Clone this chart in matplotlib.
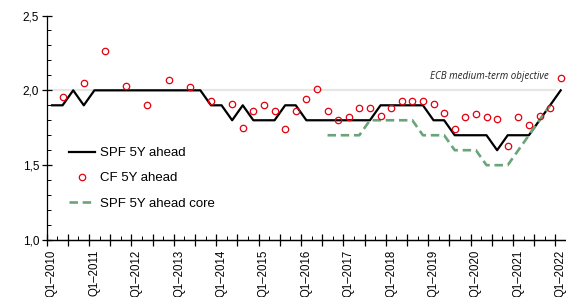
import numpy as np
import matplotlib
matplotlib.use("Agg")
import matplotlib.pyplot as plt
from matplotlib.ticker import FixedLocator, MultipleLocator, FuncFormatter

nan = np.nan
# quarterly series Q1-2010 ... Q1-2022 (49 quarters)
years = list(range(2010, 2023))
tick_labels = [f"Q1\u2013{y}" for y in years]

spf_5y = [1.9, 1.9, 2.0, 1.9,
          2.0, 2.0, 2.0, 2.0, 2.0, 2.0, 2.0, 2.0, 2.0, 2.0, 2.0,
          1.9, 1.9, 1.8, 1.9, 1.8, 1.8, 1.8, 1.9, 1.9,
          1.8, 1.8, 1.8, 1.8, 1.8, 1.8, 1.8,
          1.9, 1.9, 1.9, 1.9, 1.9,
          1.8, 1.8, 1.7, 1.7, 1.7, 1.7, 1.6, 1.7, 1.7, 1.7,
          1.8, 1.9, 2.0]

cf_5y = [nan, 1.955, nan, 2.05, nan, 2.26, nan, 2.03, nan, 1.90,
         nan, 2.07, nan, 2.02, nan, 1.93, nan, 1.91, 1.75, 1.86,
         1.90, 1.86, 1.74, 1.86, 1.94, 2.01, 1.86, 1.80, 1.82, 1.88,
         1.88, 1.83, 1.88, 1.93, 1.93, 1.93, 1.91, 1.85, 1.74, 1.82,
         1.84, 1.82, 1.81, 1.63, 1.82, 1.77, 1.83, 1.88, 2.08]

spf_core = [nan] * 26 + [1.7, 1.7, 1.7, 1.7,
                         1.8, 1.8, 1.8, 1.8, 1.8,
                         1.7, 1.7, 1.7,
                         1.6, 1.6, 1.6,
                         1.5, 1.5, 1.5,
                         1.6, 1.7, 1.8, 1.9, nan]

ecb_objective = 2.0
ecb_label = "ECB medium-term objective"

x = np.arange(len(spf_5y))

plt.rcParams['font.family'] = ['Liberation Sans', 'DejaVu Sans']
fig = plt.figure(figsize=(5.66, 2.97), dpi=100)
ax = fig.add_axes([46.7 / 566, (297 - 240) / 297, (566 - 46.7) / 566, (240 - 15.5) / 297])

ax.hlines(ecb_objective, -0.5, 47.6, color='#e6e6e6', lw=1.6, zorder=1)
ax.plot(x, spf_5y, color='black', lw=1.6, label='SPF 5Y ahead', zorder=3)
ax.plot(x, cf_5y, ls='none', marker='o', ms=4.6, mfc='none', mec='#e3000f', mew=0.9,
        label='CF 5Y ahead', zorder=5)
ax.plot(x, spf_core, color='#6aa57a', lw=1.9, ls=(0, (3.2, 1.8)), label='SPF 5Y ahead core', zorder=4)

ax.text(46.9, 2.095, ecb_label, ha='right', va='center', fontsize=7, style='italic',
        family=['Open Sans', 'DejaVu Sans'], color='#222222')

ax.set_xlim(-0.5, 48.5)
ax.set_ylim(1.0, 2.5)

for s in ['top', 'right']:
    ax.spines[s].set_visible(False)
for s in ['left', 'bottom']:
    ax.spines[s].set_linewidth(0.9)

# y axis
ax.yaxis.set_major_locator(MultipleLocator(0.5))
ax.yaxis.set_minor_locator(MultipleLocator(0.1))
ax.yaxis.set_major_formatter(FuncFormatter(lambda v, p: f"{v:.1f}".replace('.', ',')))
ax.tick_params(axis='y', which='major', direction='inout', length=7, width=0.9, labelsize=8.5, pad=2)
ax.tick_params(axis='y', which='minor', direction='in', length=3, width=0.7)

# x axis labels (no tick marks)
ax.xaxis.set_major_locator(FixedLocator(x[::4]))
ax.set_xticklabels(tick_labels, rotation=90, fontsize=8.3)
ax.xaxis.set_minor_locator(FixedLocator(np.arange(-0.5, 49, 2.0) + 1.0))
ax.tick_params(axis='x', which='major', length=0, pad=7)
ax.tick_params(axis='x', which='minor', direction='in', length=3, width=0.7)

sec = ax.secondary_xaxis('bottom')
sec.set_xticks(np.arange(-0.5, 49, 2.0))
sec.tick_params(axis='x', which='major', direction='inout', length=8, width=0.9, labelbottom=False)
sec.spines['bottom'].set_linewidth(0.9)

leg = ax.legend(loc='upper left', bbox_to_anchor=(0.043, 0.414), frameon=False, fontsize=9.5,
                borderpad=0, borderaxespad=0, handlelength=1.97, handletextpad=0.38,
                labelspacing=0.98)

fig.savefig('out.png', dpi=100)
